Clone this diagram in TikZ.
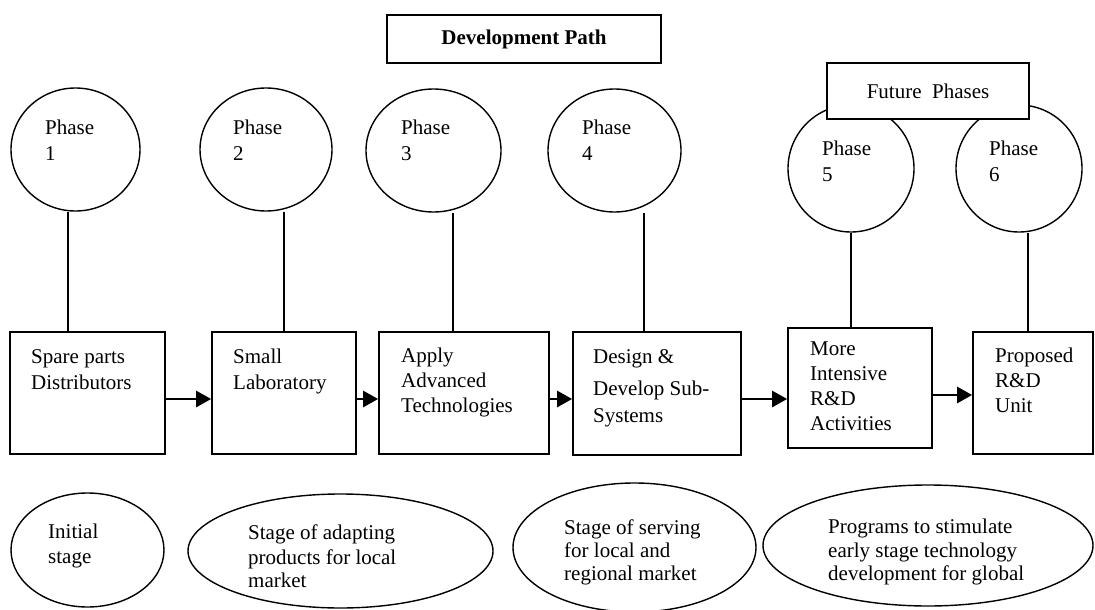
\documentclass[tikz,border=0pt]{standalone}
\usepackage{fontspec}
\setmainfont{Liberation Serif}
\usetikzlibrary{shapes.geometric,arrows.meta}
\begin{document}
\begin{tikzpicture}[x=1pt,y=-1pt,
  every node/.style={font=\fontsize{21}{25}\selectfont},
  stagebox/.style={draw, line width=1.7pt, rectangle, inner sep=0pt, fill=white},
  phase/.style={draw, line width=1.4pt, ellipse, inner sep=0pt},
  blob/.style={draw, line width=1.4pt, ellipse, inner sep=0pt},
  % captions are placed by the baseline of their last line
  caption/.style={anchor=base west, inner sep=0pt, align=left},
  link/.style={line width=1.5pt},
  arr/.style={line width=2.6pt, -{Triangle[length=15pt,width=16pt]}},
]
\path[fill=white] (0,0) rectangle (1095,610);
\useasboundingbox (0,0) rectangle (1095,610);

% title
\node[stagebox, minimum width=274pt, minimum height=48pt,
      font=\fontsize{21}{25}\selectfont\bfseries] (title) at (524,39) {Development Path};

% phase circles
\node[phase, minimum width=129pt, minimum height=123pt] (c1) at (75.5,149.5) {};
\node[phase, minimum width=132pt, minimum height=123pt] (c2) at (266,149.5) {};
\node[phase, minimum width=135pt, minimum height=123pt] (c3) at (433.5,150.5) {};
\node[phase, minimum width=133pt, minimum height=123pt] (c4) at (614.5,150.5) {};
\node[phase, minimum width=126pt, minimum height=127pt] (c5) at (851,168.5) {};
\node[phase, minimum width=126pt, minimum height=127pt] (c6) at (1019,168.5) {};

\node[caption] (p1) at (45,160) {Phase\\[1pt]1};
\node[caption] (p2) at (233,160) {Phase\\[1pt]2};
\node[caption] (p3) at (401,160) {Phase\\[1pt]3};
\node[caption] (p4) at (582,160) {Phase\\[1pt]4};
\node[caption] (p5) at (822,181) {Phase\\[1pt]5};
\node[caption] (p6) at (989,181) {Phase\\[1pt]6};

% label over the last two phases
\node[stagebox, minimum width=202pt, minimum height=56pt] (future) at (928,91) {Future\ \ Phases};

% stage boxes
\node[stagebox, minimum width=155pt, minimum height=122pt] (b1) at (87.5,393) {};
\node[stagebox, minimum width=144pt, minimum height=122pt] (b2) at (284,393) {};
\node[stagebox, minimum width=170pt, minimum height=122pt] (b3) at (464,393) {};
\node[stagebox, minimum width=168pt, minimum height=123pt] (b4) at (657,393.5) {};
\node[stagebox, minimum width=144pt, minimum height=120pt] (b5) at (860,388) {};
\node[stagebox, minimum width=120pt, minimum height=122pt] (b6) at (1033,393) {};

\node[caption] (s1) at (31,389) {Spare parts\\[1pt]Distributors};
\node[caption] (s2) at (233,389) {Small\\[1pt]Laboratory};
\node[caption] (s3) at (401,412) {Apply\\Advanced\\Technologies};
\node[caption] (s4) at (593,422) {Design \&\\[7pt]Develop Sub-\\[2pt]Systems};
\node[caption] (s5) at (810,430) {More\\Intensive\\R\&D\\Activities};
\node[caption] (s6) at (995,412) {Proposed\\R\&D\\Unit};

% phase to stage links
\draw[link] (c1.south -| 68,0) -- (b1.north -| 68,0);
\draw[link] (c2.south -| 284,0) -- (b2.north -| 284,0);
\draw[link] (c3.south -| 453,0) -- (b3.north -| 453,0);
\draw[link] (c4.south -| 644,0) -- (b4.north -| 644,0);
\draw[link] (c5.south -| 851,0) -- (b5.north -| 851,0);
\draw[link] (c6.south -| 1028,0) -- (b6.north -| 1028,0);

% flow between stages
\draw[arr] (b1.east |- 0,399) -- (b2.west |- 0,399);
\draw[arr] (b2.east |- 0,399) -- (b3.west |- 0,399);
\draw[arr] (b3.east |- 0,399) -- (b4.west |- 0,399);
\draw[arr] (b4.east |- 0,399) -- (b5.west |- 0,399);
\draw[arr] (b5.east |- 0,395) -- (b6.west |- 0,395);

% market stages
\node[blob, minimum width=153pt, minimum height=114pt] (e1) at (87.5,550) {};
\node[blob, minimum width=305pt, minimum height=114pt] (e2) at (340.5,551) {};
\node[blob, minimum width=243pt, minimum height=129pt] (e3) at (634.5,547.5) {};
\node[blob, minimum width=330pt, minimum height=121pt] (e4) at (928,545.5) {};

\node[caption] (m1) at (48,563) {Initial\\stage};
\node[caption] (m2) at (248,587) {Stage of adapting\\products for local\\[-2pt]market};
\node[caption] (m3) at (564,580) {Stage of serving\\[-2pt]for local and\\[-2pt]regional market};
\node[caption] (m4) at (828,580) {Programs to stimulate\\[-1pt]early stage technology\\[-2pt]development for global};
\end{tikzpicture}
\end{document}
